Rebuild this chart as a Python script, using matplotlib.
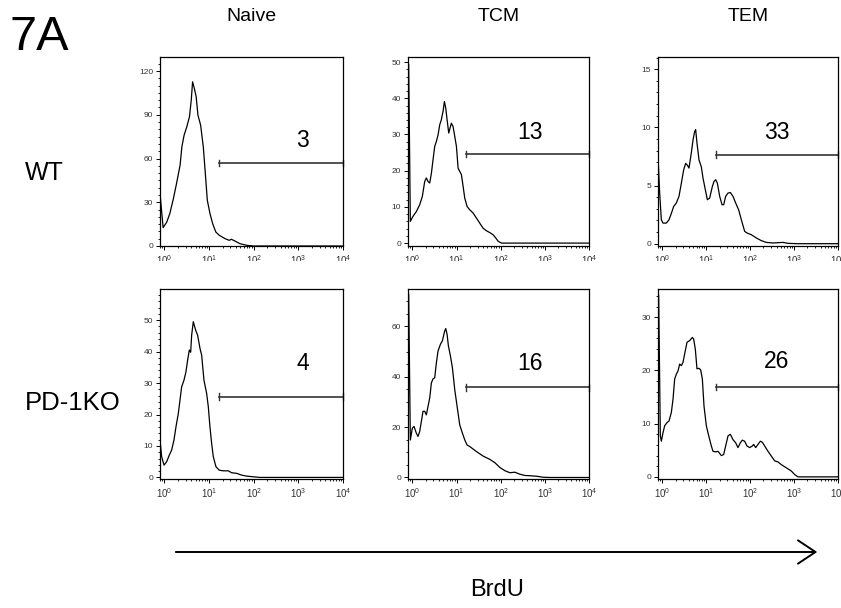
import numpy as np
import matplotlib
matplotlib.use("Agg")
import matplotlib.pyplot as plt
from matplotlib.ticker import FixedLocator, AutoMinorLocator, NullFormatter, LogLocator
from matplotlib.transforms import Bbox, TransformedBbox
from matplotlib.patches import FancyArrowPatch

plt.rcParams['font.family'] = ['Liberation Sans', 'DejaVu Sans']

columns = ["Naive", "TCM", "TEM"]
rows = ["WT", "PD-1KO"]

# BrdU histograms: x as log10(intensity), y as cell count
naive_wt_x = [-0.1, -0.03, 0.05, 0.12, 0.2, 0.27, 0.35, 0.39, 0.44, 0.5, 0.56, 0.6, 0.63, 0.67,
              0.71, 0.75, 0.81, 0.87, 0.91, 0.96, 1.02, 1.08, 1.15, 1.23, 1.36, 1.45, 1.5, 1.58,
              1.69, 1.84, 1.99, 4.0]
naive_wt_y = [36, 12.6, 16.3, 22.2, 32.5, 42.8, 55.4, 68, 76, 81.7, 88.6, 100, 112.6, 108,
              102.4, 89.8, 82.9, 68, 52, 31.4, 22.2, 15.3, 9.6, 7.3, 5, 3.9, 4.6, 3.4,
              1.6, 0.5, 0, 0]

tcm_wt_x = [-0.085, -0.047, 0.013, 0.089, 0.165, 0.225, 0.278, 0.316, 0.354, 0.392, 0.43, 0.467,
            0.505, 0.543, 0.581, 0.619, 0.656, 0.694, 0.725, 0.755, 0.785, 0.823, 0.853, 0.883,
            0.921, 0.959, 0.997, 1.035, 1.072, 1.11, 1.148, 1.186, 1.239, 1.299, 1.375, 1.451,
            1.526, 1.602, 1.678, 1.753, 1.829, 1.889, 1.942, 2.018, 4.0]
tcm_wt_y = [49.3, 6, 7.4, 8.7, 10.6, 12.9, 17, 18, 17, 16.6, 19.3, 23,
            26.7, 28.1, 29.9, 32.7, 34.1, 36.4, 39.1, 37.3, 34.1, 30.4, 31.8, 33.1,
            32.2, 29.5, 26.7, 20.7, 19.8, 18.9, 15.7, 12.4, 10.1, 9.2, 8.3, 6.9,
            5.5, 4.1, 3.4, 2.9, 2.3, 1.4, 0.5, 0, 0]

tem_wt_x = [-0.1, -0.062, -0.024, 0.014, 0.09, 0.151, 0.204, 0.257, 0.318, 0.378, 0.432, 0.485,
            0.53, 0.568, 0.606, 0.659, 0.697, 0.735, 0.758, 0.788, 0.834, 0.887, 0.925, 0.978,
            1.024, 1.077, 1.138, 1.176, 1.214, 1.252, 1.305, 1.358, 1.396, 1.441, 1.495, 1.548,
            1.608, 1.669, 1.738, 1.798, 1.874, 1.927, 2.026, 2.14, 2.254, 2.368, 2.52, 2.747,
            2.861, 3.051, 4.0]
tem_wt_y = [7.5, 4.35, 2.06, 1.77, 1.77, 2.06, 2.6, 3.2, 3.5, 4.07, 5.2, 6.36,
            6.9, 6.75, 6.5, 7.8, 8.9, 9.65, 9.8, 8.65, 7.2, 6.6, 5.64, 4.64,
            3.78, 3.92, 4.92, 5.35, 5.5, 5.2, 4.07, 3.35, 3.35, 4.07, 4.35, 4.4,
            4.07, 3.5, 2.9, 2.06, 1.06, 0.92, 0.77, 0.49, 0.26, 0.11, 0.06, 0.11,
            0.03, 0, 0]

naive_ko_x = [-0.1, -0.063, -0.01, 0.049, 0.109, 0.161, 0.213, 0.258, 0.31, 0.348, 0.385, 0.437,
              0.482, 0.519, 0.557, 0.587, 0.609, 0.646, 0.699, 0.743, 0.796, 0.833, 0.885, 0.945,
              0.982, 1.019, 1.057, 1.094, 1.154, 1.228, 1.318, 1.43, 1.504, 1.616, 1.728, 1.84,
              1.99, 2.139, 4.0]
naive_ko_y = [11.9, 6.6, 3.9, 5, 7.1, 8.7, 11.9, 16.1, 20.3, 24.6, 28.8, 30.9,
              33.6, 37.3, 40.5, 39.8, 45.2, 49.5, 46.8, 45.2, 41, 38.9, 30.9, 26.7,
              22.5, 16.1, 10.8, 6.6, 3.4, 2.3, 2.1, 2.1, 1.5, 1.3, 0.74, 0.42,
              0.2, 0, 0]

tcm_ko_x = [-0.085, -0.047, -0.002, 0.036, 0.089, 0.127, 0.165, 0.203, 0.24, 0.278, 0.316, 0.354,
            0.392, 0.43, 0.467, 0.505, 0.543, 0.581, 0.634, 0.679, 0.732, 0.755, 0.785, 0.815,
            0.861, 0.906, 0.959, 1.012, 1.072, 1.133, 1.186, 1.239, 1.299, 1.451, 1.602, 1.753,
            1.867, 1.98, 2.094, 2.207, 2.321, 2.434, 2.548, 2.661, 2.812, 2.964, 3.115, 4.0]
tcm_ko_y = [72.9, 14.9, 19.6, 20.3, 17.6, 16.3, 18.3, 22.3, 26.3, 26.3, 24.9, 28.3,
            31.6, 37.6, 39.2, 39.6, 45.6, 50.3, 52.9, 54.3, 58.3, 59.2, 56.9, 52.3,
            48.3, 43.6, 34.9, 28.3, 20.9, 17.6, 14.9, 12.9, 12.3, 10.3, 8.5, 7.2,
            5.9, 4, 2.7, 1.9, 2.1, 1.3, 0.8, 0.7, 0.5, 0.1, 0, 0]

tem_ko_x = [-0.085, -0.047, -0.024, 0.014, 0.052, 0.105, 0.151, 0.204, 0.242, 0.28, 0.318, 0.356,
            0.394, 0.432, 0.469, 0.507, 0.561, 0.621, 0.682, 0.712, 0.75, 0.788, 0.834, 0.872,
            0.91, 0.948, 1.001, 1.047, 1.077, 1.115, 1.153, 1.214, 1.267, 1.305, 1.343, 1.396,
            1.441, 1.495, 1.548, 1.608, 1.669, 1.722, 1.775, 1.821, 1.874, 1.927, 1.988, 2.049,
            2.079, 2.125, 2.178, 2.231, 2.277, 2.33, 2.406, 2.482, 2.558, 2.634, 2.709, 2.785,
            2.861, 2.937, 3.013, 3.089, 4.0]
tem_ko_y = [34.1, 7.7, 6.7, 8.3, 9.6, 10.2, 10.5, 12.1, 14.6, 18.4, 19.3, 19.9,
            21.2, 20.9, 21.5, 23.1, 25.3, 25.6, 26.2, 25.9, 24, 20.3, 20.4, 20.1,
            18.4, 13.3, 9.6, 8, 7, 5.8, 4.8, 4.7, 4.8, 4.4, 4, 4.2,
            5.8, 7.7, 8, 7, 6.4, 5.5, 6.4, 6.9, 6.7, 5.8, 5.5, 5.8,
            6.1, 5.5, 6.1, 6.7, 6.5, 5.8, 4.8, 3.9, 3, 2.8, 2.3, 1.9,
            1.5, 1.1, 0.44, 0, 0]

curves_x = [[naive_wt_x, tcm_wt_x, tem_wt_x], [naive_ko_x, tcm_ko_x, tem_ko_x]]
curves_y = [[naive_wt_y, tcm_wt_y, tem_wt_y], [naive_ko_y, tcm_ko_y, tem_ko_y]]

# percent BrdU+ in each gate and gate height
gate_pct = [[3, 13, 33], [4, 16, 26]]
gate_level = [[56.9, 24.6, 7.64], [25.6, 35.8, 16.9]]
gate_start = 16.6
gate_end = 1e4

y_limits = [[(0, 129.6), (-0.8, 51.4), (-0.2, 16.05)],
            [(-0.5, 59.9), (-0.6, 74.9), (-0.4, 35.3)]]
y_ticks = [[[0, 30, 60, 90, 120], [0, 10, 20, 30, 40, 50], [0, 5, 10, 15]],
           [[0, 10, 20, 30, 40, 50], [0, 20, 40, 60], [0, 10, 20, 30]]]
y_minor = [[6, 5, 5], [5, 4, 5]]
label_pos = [[(0.78, 0.56), (0.674, 0.598), (0.661, 0.603)],
             [(0.78, 0.61), (0.674, 0.61), (0.661, 0.616)]]

W, H = 841, 608
fig = plt.figure(figsize=(W / 100, H / 100), dpi=100)

col_left = [160, 408, 658]
col_width = [183, 181, 180]
row_top = [57, 289]
row_bottom = [246, 479]

for r in range(2):
    for c in range(3):
        ax = fig.add_axes([col_left[c] / W, 1 - row_bottom[r] / H,
                           col_width[c] / W, (row_bottom[r] - row_top[r]) / H])
        xs = 10 ** np.array(curves_x[r][c])
        ax.plot(xs, curves_y[r][c], color='black', lw=0.9)
        ax.set_xscale('log')
        ax.set_xlim(10 ** -0.1, 1e4)
        ax.set_ylim(*y_limits[r][c])

        # gate bar with end caps
        g = gate_level[r][c]
        ax.plot([gate_start, gate_end], [g, g], color='#333333', lw=1.2, clip_on=False)
        cap = (y_limits[r][c][1] - y_limits[r][c][0]) * 0.018
        for gx in (gate_start, gate_end):
            ax.plot([gx, gx], [g - cap, g + cap], color='#333333', lw=1.0, clip_on=False)
        ax.text(*label_pos[r][c], str(gate_pct[r][c]), transform=ax.transAxes,
                ha='center', va='center', fontsize=16.5)

        ax.xaxis.set_major_locator(FixedLocator([1, 10, 100, 1000, 10000]))
        ax.set_xticklabels([r'$\mathregular{10^{%d}}$' % k for k in range(5)])
        ax.xaxis.set_minor_locator(LogLocator(subs=np.arange(2, 10)))
        ax.xaxis.set_minor_formatter(NullFormatter())
        ax.set_yticks(y_ticks[r][c])
        ax.yaxis.set_minor_locator(AutoMinorLocator(y_minor[r][c]))
        ax.tick_params(which='major', length=3, width=0.7, labelcolor='#333333')
        ax.tick_params(axis='y', labelsize=6, pad=2)
        ax.tick_params(axis='x', labelsize=7, pad=2.5)
        ax.tick_params(which='minor', length=1.6, width=0.6)
        for s in ax.spines.values():
            s.set_linewidth(0.9)

        # top row axis labels are cut off by the row below
        if r == 0:
            clip = TransformedBbox(Bbox([[0, 1 - 261 / H], [1, 1]]), fig.transFigure)
            for lbl in ax.get_xticklabels():
                lbl.set_clip_box(clip)
                lbl.set_clip_on(True)
            ax.set_title(columns[c], fontsize=14, pad=26)

fig.text(10 / W, 1 - 50 / H, "7A", fontsize=35, ha='left', va='baseline')
fig.text(25 / W, 1 - 173 / H, rows[0], fontsize=18, ha='left', va='center')
fig.text(25 / W, 1 - 403 / H, rows[1], fontsize=18.5, ha='left', va='center')

fig.patches.append(FancyArrowPatch(
    (173 / W, 1 - 552 / H), (820 / W, 1 - 552 / H), transform=fig.transFigure,
    arrowstyle='->,head_length=0.9,head_width=0.6', color='black', lw=1.4,
    mutation_scale=14))
fig.text(497 / W, 1 - 590 / H, "BrdU", fontsize=17, ha='center', va='center')

fig.savefig("out.png", dpi=100)
